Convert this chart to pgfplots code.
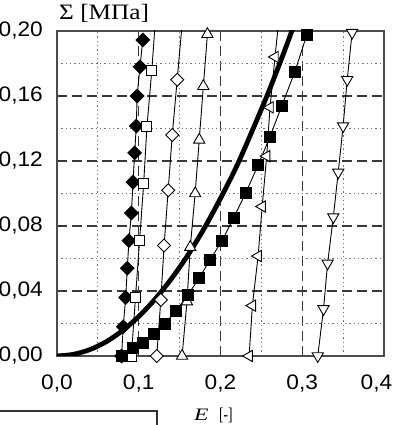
\documentclass[border=0pt]{standalone}
\usepackage{fontspec}
\setmainfont{Liberation Sans}
\newfontfamily\seriffont{Liberation Serif}
\usepackage{graphicx}
\usepackage{pgfplots}
\pgfplotsset{compat=1.18}
\begin{document}
\begin{tikzpicture}[x=1pt,y=1pt]
\useasboundingbox (0,0) rectangle (394,425);
\begin{axis}[
  at={(57pt,69pt)}, anchor=south west,
  scale only axis, width=327pt, height=325pt,
  xmin=0, xmax=0.4, ymin=0, ymax=0.2,
  xtick={0,0.1,0.2,0.3,0.4},
  ytick={0,0.04,0.08,0.12,0.16,0.2},
  xticklabels={{0,0},{0,1},{0,2},{0,3},{\hspace*{-14pt}0,4}},
  yticklabels={{0,00},{0,04},{0,08},{0,12},{0,16},{0,20}},
  minor xtick={0.05,0.15,0.25,0.35},
  minor ytick={0.02,0.06,0.10,0.14,0.18},
  grid=both,
  major grid style={black!78, line width=1.3pt, dash pattern=on 10pt off 5pt},
  minor grid style={black!55, line width=1.2pt, dash pattern=on 1.3pt off 3pt},
  major tick length=0pt, minor tick length=0pt,
  axis line style={black!70, line width=1.5pt},
  xticklabel style={font=\fontsize{21}{21}\selectfont, inner sep=0pt, yshift=-19pt, xscale=1.08},
  yticklabel style={font=\fontsize{21}{21}\selectfont, inner sep=0pt, xshift=-14pt, xscale=1.08},
  clip=true,
]
% thick curve
\addplot[black, line width=4.8pt, smooth] coordinates {
 (0,0) (0.02,0.001) (0.04,0.0039) (0.06,0.0087) (0.08,0.0156) (0.10,0.0243)
 (0.12,0.035) (0.14,0.0476) (0.16,0.062) (0.18,0.0785) (0.20,0.097)
 (0.22,0.117) (0.24,0.140) (0.26,0.164) (0.28,0.190) (0.29,0.204)
};
% filled diamonds
\addplot[black, line width=0.9pt, mark=square*, mark size=4.8pt,
  mark options={rotate=45, fill=black, solid}] coordinates {
 (0.079,0) (0.081,0.018) (0.084,0.036) (0.086,0.054) (0.088,0.071) (0.091,0.088)
 (0.093,0.107) (0.095,0.125) (0.097,0.1415) (0.098,0.16) (0.1015,0.178) (0.105,0.1945)
};
% open squares
\addplot[black, line width=0.9pt, mark=square*, mark size=5pt,
  mark options={fill=white, solid}] coordinates {
 (0.091,0) (0.096,0.036) (0.101,0.071) (0.106,0.106) (0.110,0.141) (0.116,0.176) (0.121,0.211)
};
% open diamonds
\addplot[black, line width=0.9pt, mark=square*, mark size=4.6pt,
  mark options={rotate=45, fill=white, solid}] coordinates {
 (0.122,0) (0.127,0.0345) (0.131,0.068) (0.136,0.102) (0.141,0.136) (0.147,0.170) (0.153,0.204)
};
% open up triangles
\addplot[black, line width=0.9pt, mark=triangle*, mark size=6.5pt,
  mark options={fill=white, solid}] coordinates {
 (0.153,0) (0.159,0.0335) (0.163,0.067) (0.169,0.100) (0.174,0.133) (0.179,0.166) (0.184,0.198)
};
% open left triangles
\addplot[black, line width=0.9pt, mark=triangle*, mark size=6.5pt,
  mark options={rotate=90, fill=white, solid}] coordinates {
 (0.235,0) (0.239,0.031) (0.246,0.0615) (0.251,0.092) (0.2565,0.123) (0.2606,0.153) (0.2667,0.184) (0.273,0.215)
};
% filled squares
\addplot[black, line width=0.9pt, mark=square*, mark size=5.5pt,
  mark options={fill=black, solid}] coordinates {
 (0.079,0) (0.0926,0.005) (0.1056,0.008) (0.118,0.0135) (0.132,0.020) (0.146,0.028)
 (0.160,0.0375) (0.174,0.048) (0.187,0.059) (0.202,0.071) (0.216,0.085) (0.231,0.1005)
 (0.246,0.1175) (0.2606,0.135) (0.275,0.154) (0.291,0.175) (0.3055,0.1975)
};
% open down triangles
\addplot[black, line width=0.9pt, mark=triangle*, mark size=6.5pt,
  mark options={rotate=180, fill=white, solid}] coordinates {
 (0.319,0) (0.326,0.029) (0.331,0.057) (0.338,0.0855) (0.344,0.113) (0.350,0.1415) (0.355,0.170) (0.361,0.199)
};
\end{axis}
\node[anchor=base west, inner sep=0pt, font=\seriffont\fontsize{22}{22}\selectfont, xscale=1.15] at (59,405) {Σ [МПа]};
\node[anchor=base west, inner sep=0pt, font=\seriffont\itshape\fontsize{17.5}{17.5}\selectfont] at (194,4.3) {\scalebox{1.35}[1]{E}};
\node[anchor=base west, inner sep=0pt, font=\seriffont\fontsize{18}{18}\selectfont] at (219,4.3) {\scalebox{0.75}[1]{[-]}};
\draw[black!80, line width=1.5pt] (-1,14) -- (157,14) -- (157,-2);
\end{tikzpicture}
\end{document}
